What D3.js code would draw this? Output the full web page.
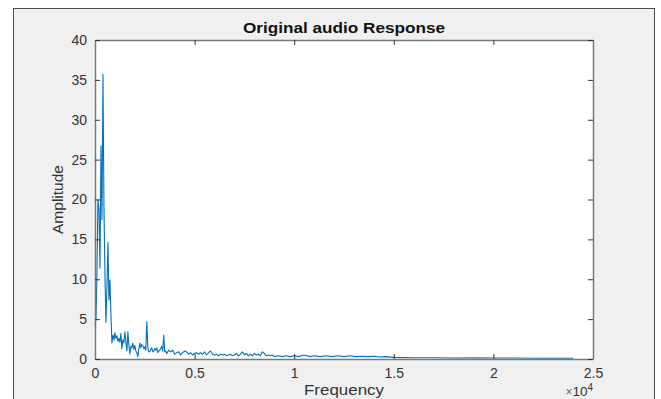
<!DOCTYPE html>
<html><head><meta charset="utf-8">
<script src="https://cdn.jsdelivr.net/npm/d3@7"></script>
<style>html,body{margin:0;padding:0;background:#fff;}svg{display:block;}</style>
</head><body>
<svg id="c" width="661" height="399"></svg>
<script>
const titleText = "Original audio Response";
const xLabel = "Frequency";
const yLabel = "Amplitude";
const xTickValues = [0, 5000, 10000, 15000, 20000, 25000];
const xTickLabels = ["0", "0.5", "1", "1.5", "2", "2.5"];
const yTickValues = [0, 5, 10, 15, 20, 25, 30, 35, 40];
const yTickLabels = ["0", "5", "10", "15", "20", "25", "30", "35", "40"];

const freq = [0,50,100,150,200,250,300,350,400,450,500,550,600,650,700,750,800,850,900,950,
1000,1050,1100,1150,1200,1250,1300,1350,1400,1450,1500,1550,1600,1650,1700,1750,1800,1850,1900,1950,
2000,2050,2100,2150,2200,2250,2300,2350,2400,2450,2500,2550,2600,2650,2700,2750,2800,2850,2900,2950,
3000,3050,3100,3150,3200,3250,3300,3350,3400,3450,3500,3550,3600,3700,3800,3900,4000,4100,4200,4300,
4400,4500,4600,4700,4800,4900,5000,5100,5200,5300,5400,5500,5600,5700,5800,5900,6000,6100,6200,6300,
6400,6500,6600,6700,6800,6900,7000,7100,7200,7300,7400,7500,7600,7700,7800,7900,8000,8100,8200,8300,
8400,8500,8600,8700,8800,8900,9000,9200,9400,9600,9800,10000,10200,10500,10800,11000,11300,11600,11900,12200,
12500,12800,13100,13400,13700,14000,14300,14600,15000,16000,17000,18000,19000,20000,21000,22000,23000,24000];
const amplitude = [4.2,5.0,11.2,20.0,18.8,11.4,26.7,17.5,35.7,19.0,10.5,4.6,9.0,14.6,7.4,9.9,5.5,2.0,3.0,2.4,
3.3,2.6,2.9,2.2,2.6,2.1,3.2,1.3,2.4,2.0,3.4,2.2,1.0,3.4,1.8,0.6,1.6,1.4,2.0,1.2,
1.7,1.0,0.8,0.3,1.2,2.0,1.4,1.8,1.7,1.3,1.5,1.1,4.7,1.5,0.9,0.9,1.2,1.4,0.9,1.0,
1.3,1.1,1.4,0.8,1.0,1.1,1.3,1.6,1.0,3.0,0.9,1.0,0.7,1.1,0.9,1.1,0.6,0.8,0.9,0.5,
0.8,1.0,0.9,0.6,0.8,0.5,0.7,0.8,0.6,0.8,0.6,0.9,0.5,0.8,1.0,0.6,0.5,0.6,0.4,0.6,
0.5,0.6,0.4,0.5,0.6,0.4,0.5,0.7,0.4,0.6,0.9,0.5,0.7,0.4,0.6,0.4,0.7,0.5,0.6,0.4,
0.9,0.7,0.4,0.5,0.4,0.5,0.3,0.4,0.3,0.4,0.3,0.4,0.3,0.5,0.3,0.4,0.3,0.4,0.3,0.4,
0.3,0.4,0.3,0.35,0.3,0.35,0.25,0.3,0.2,0.15,0.15,0.12,0.15,0.12,0.12,0.1,0.1,0.1];

const svg = d3.select("#c");
const font = "'Liberation Sans', Arial, Helvetica, sans-serif";

// figure frame
svg.append("rect").attr("x", 13.5).attr("y", 8.5).attr("width", 641).attr("height", 400)
  .attr("fill", "#f0f0f0").attr("stroke", "#4a4a4a").attr("stroke-width", 1);

const L = 95, R = 593, T = 40, B = 359;
const x = d3.scaleLinear().domain([0, 25000]).range([L, R]);
const y = d3.scaleLinear().domain([0, 40]).range([B, T]);

svg.append("rect").attr("x", L).attr("y", T).attr("width", R - L).attr("height", B - T).attr("fill", "#fff");

const data = freq.map((f, i) => [f, amplitude[i]]);
svg.append("path").datum(data)
  .attr("fill", "none").attr("stroke", "#0072BD").attr("stroke-width", 1.1)
  .attr("stroke-linejoin", "round")
  .attr("d", d3.line().x(d => x(d[0])).y(d => y(d[1])));

const axisColor = "#7a7a7a";
// axes with inward ticks
const gx = svg.append("g").attr("transform", `translate(0,${B})`)
  .call(d3.axisBottom(x).tickValues(xTickValues).tickFormat((d, i) => xTickLabels[i]).tickSizeInner(-5).tickSizeOuter(0).tickPadding(9));
const gxt = svg.append("g").attr("transform", `translate(0,${T})`)
  .call(d3.axisTop(x).tickValues(xTickValues).tickFormat("").tickSizeInner(-5).tickSizeOuter(0));
const gy = svg.append("g").attr("transform", `translate(${L},0)`)
  .call(d3.axisLeft(y).tickValues(yTickValues).tickFormat((d, i) => yTickLabels[i]).tickSizeInner(-5).tickSizeOuter(0).tickPadding(8));
const gyr = svg.append("g").attr("transform", `translate(${R},0)`)
  .call(d3.axisRight(y).tickValues(yTickValues).tickFormat("").tickSizeInner(-5).tickSizeOuter(0));
[gx, gxt, gy, gyr].forEach(g => {
  g.selectAll(".domain").attr("stroke", axisColor).attr("stroke-width", 1.5);
  g.selectAll(".tick line").attr("stroke", "#333").attr("stroke-width", 1);
  g.selectAll("text").attr("fill", "#333").style("font-family", font).style("font-size", "14px");
});

// title
svg.append("text").attr("x", (L + R) / 2).attr("y", 33).attr("text-anchor", "middle")
  .attr("textLength", 202).attr("lengthAdjust", "spacingAndGlyphs")
  .style("font-family", font).style("font-size", "15.5px").style("font-weight", "bold").attr("fill", "#111")
  .text(titleText);

// x label
svg.append("text").attr("x", (L + R) / 2).attr("y", 395).attr("text-anchor", "middle")
  .attr("textLength", 80).attr("lengthAdjust", "spacingAndGlyphs")
  .style("font-family", font).style("font-size", "15px").attr("fill", "#333")
  .text(xLabel);

// y label
svg.append("text").attr("transform", `translate(63,${(T + B) / 2}) rotate(-90)`).attr("text-anchor", "middle")
  .style("font-family", font).style("font-size", "15.5px").attr("fill", "#333")
  .text(yLabel);

// exponent
const ex = svg.append("text").attr("x", R).attr("y", 395.5).attr("text-anchor", "end")
  .style("font-family", font).style("font-size", "13.5px").attr("fill", "#333");
ex.append("tspan").style("font-size", "12px").attr("fill", "#666").text("\u00d7");
ex.append("tspan").text("10");
ex.append("tspan").attr("dy", -5).style("font-size", "10px").text("4");
</script>
</body></html>
